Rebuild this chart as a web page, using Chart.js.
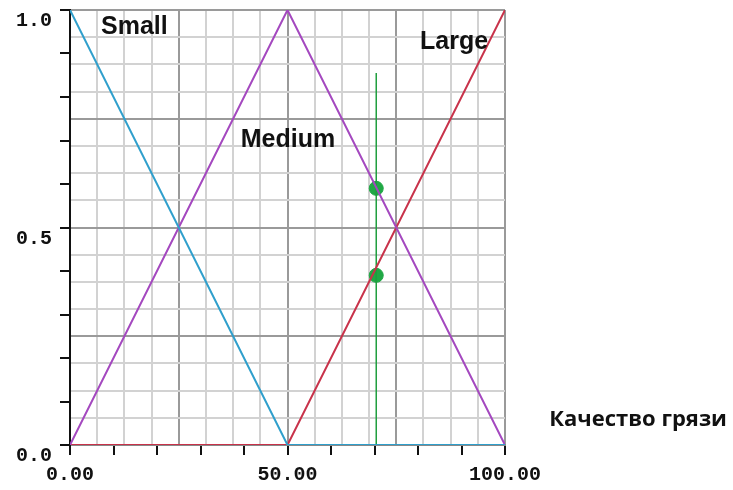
<!DOCTYPE html>
<html>
<head>
<meta charset="utf-8">
<script src="https://cdn.jsdelivr.net/npm/chart.js@4.4.1/dist/chart.umd.min.js"></script>
<style>
html,body{margin:0;padding:0;background:#fff;}
canvas{display:block;}
</style>
</head>
<body>
<canvas id="c" width="733" height="490"></canvas>
<script>
// ---- data ----
const smallX = [0, 50, 100];
const smallY = [1, 0, 0];
const mediumX = [0, 50, 100];
const mediumY = [0, 1, 0];
const largeX = [0, 50, 100];
const largeY = [0, 0, 1];
const inputX = [70.4, 70.4];
const inputY = [0, 0.855];
const dotX = [70.4, 70.4];
const dotY = [0.59, 0.39];
const xTickValues = [0, 50, 100];
const xTickLabels = ['0.00', '50.00', '100.00'];
const yTickValues = [0, 0.5, 1];
const yTickLabels = ['0.0', '0.5', '1.0'];
const termNames = ['Small', 'Medium', 'Large'];
const axisTitle = 'Качество грязи';

const pts = (xs, ys) => xs.map((x, i) => ({x: x, y: ys[i]}));

// label placement (data units)
const termPos = [[14.8, 0.96], [50.1, 0.70], [88.3, 0.926]];
const titlePos = [130.6, 0.057];

const gridColorX = ctx => (Math.abs(ctx.tick.value % 25) < 1e-9) ? '#9a9a9a' : '#d2d2d2';
const gridColorY = ctx => (Math.abs(ctx.tick.value % 0.25) < 1e-9) ? '#9a9a9a' : '#d2d2d2';

const textPlugin = {
  id: 'terms',
  afterDatasetsDraw(chart) {
    const c = chart.ctx, xs = chart.scales.x, ys = chart.scales.y;
    c.save();
    c.fillStyle = '#111';
    c.textAlign = 'center';
    c.textBaseline = 'middle';
    c.font = 'bold 25px "Liberation Sans", Arial, sans-serif';
    termNames.forEach((t, i) => {
      c.fillText(t, xs.getPixelForValue(termPos[i][0]), ys.getPixelForValue(termPos[i][1]));
    });
    c.font = 'bold 22px "Open Sans", "Noto Sans", sans-serif';
    c.fillText(axisTitle, xs.getPixelForValue(titlePos[0]), ys.getPixelForValue(titlePos[1]));
    c.restore();
  }
};

const tickFont = {family: '"Liberation Mono", "DejaVu Sans Mono", monospace', size: 20, weight: 'bold'};

new Chart(document.getElementById('c'), {
  type: 'scatter',
  data: {
    datasets: [
      {label: 'Small', data: pts(smallX, smallY), showLine: true, borderColor: '#2f9fcc', borderWidth: 2, pointRadius: 0, xAxisID: 'x', yAxisID: 'y'},
      {label: 'Medium', data: pts(mediumX, mediumY), showLine: true, borderColor: '#a448bf', borderWidth: 2, pointRadius: 0, xAxisID: 'x', yAxisID: 'y'},
      {label: 'Large', data: pts(largeX, largeY), showLine: true, borderColor: '#c8324a', borderWidth: 2, pointRadius: 0, xAxisID: 'x', yAxisID: 'y'},
      {label: 'Input', data: pts(inputX, inputY), showLine: true, borderColor: '#1f9e3e', borderWidth: 1.5, pointRadius: 0, xAxisID: 'x', yAxisID: 'y'},
      {label: 'Dots', data: pts(dotX, dotY), showLine: false, pointRadius: 7, pointBackgroundColor: '#20a845', pointBorderColor: '#20a845', xAxisID: 'x', yAxisID: 'y'}
    ]
  },
  options: {
    responsive: false,
    animation: false,
    layout: {padding: {left: 0, top: 10, right: 228, bottom: 0}},
    plugins: {legend: {display: false}, tooltip: {enabled: false}},
    scales: {
      x: {
        type: 'linear', position: 'bottom', min: 0, max: 100,
        ticks: {stepSize: 6.25, display: false},
        grid: {color: gridColorX, lineWidth: 2, drawTicks: false},
        border: {display: false},
        afterFit: s => { s.height = 0; }
      },
      x2: {
        type: 'linear', position: 'bottom', min: 0, max: 100,
        ticks: {
          stepSize: 10, autoSkip: false, maxRotation: 0, padding: 8, color: '#111', font: tickFont,
          callback: v => { const i = xTickValues.findIndex(t => Math.abs(t - v) < 1e-9); return i >= 0 ? xTickLabels[i] : ''; }
        },
        grid: {drawOnChartArea: false, drawTicks: true, tickLength: 10, color: '#111', lineWidth: 2},
        border: {display: true, color: '#888', width: 2},
        afterFit: s => { s.height = 45; s.paddingLeft = 0; s.paddingRight = 0; }
      },
      y: {
        type: 'linear', position: 'left', min: 0, max: 1,
        ticks: {stepSize: 0.0625, display: false},
        grid: {color: gridColorY, lineWidth: 2, drawTicks: false},
        border: {display: false},
        afterFit: s => { s.width = 0; s.paddingTop = 0; s.paddingBottom = 0; }
      },
      y2: {
        type: 'linear', position: 'left', min: 0, max: 1,
        ticks: {
          stepSize: 0.1, autoSkip: false, padding: 8, labelOffset: 11, color: '#111', font: tickFont,
          callback: v => { const i = yTickValues.findIndex(t => Math.abs(t - v) < 1e-9); return i >= 0 ? yTickLabels[i] : ''; }
        },
        grid: {drawOnChartArea: false, drawTicks: true, tickLength: 10, color: '#111', lineWidth: 2},
        border: {display: true, color: '#111', width: 2},
        afterFit: s => { s.width = 70; s.paddingTop = 0; s.paddingBottom = 0; }
      }
    }
  },
  plugins: [textPlugin]
});
</script>
</body>
</html>
